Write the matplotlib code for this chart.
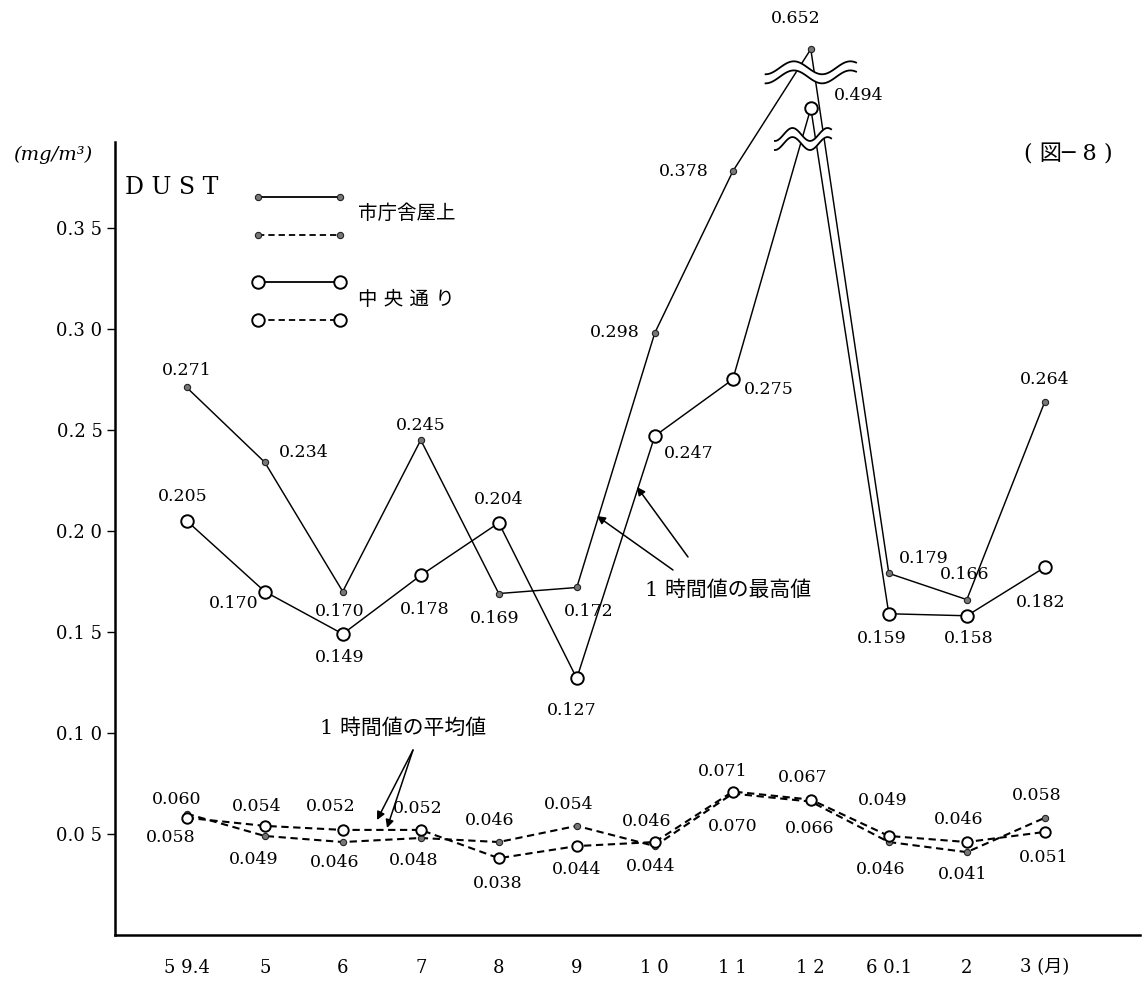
import numpy as np
import matplotlib.pyplot as plt

plt.rcParams['font.family'] = ['DejaVu Serif', 'Noto Sans CJK JP']

months = ['5 9.4', '5', '6', '7', '8', '9', '1 0', '1 1', '1 2', '6 0.1', '2', '3 (月)']

# 1時間値の最高値
shichosha_max = [0.271, 0.234, 0.170, 0.245, 0.169, 0.172, 0.298, 0.378, 0.652, 0.179, 0.166, 0.264]
chuo_max = [0.205, 0.170, 0.149, 0.178, 0.204, 0.127, 0.247, 0.275, 0.494, 0.159, 0.158, 0.182]

# 1時間値の平均値
shichosha_mean = [0.060, 0.049, 0.046, 0.048, 0.046, 0.054, 0.044, 0.070, 0.066, 0.046, 0.041, 0.058]
chuo_mean = [0.058, 0.054, 0.052, 0.052, 0.038, 0.044, 0.046, 0.071, 0.067, 0.049, 0.046, 0.051]

yticks = [0.05, 0.10, 0.15, 0.20, 0.25, 0.30, 0.35]
ytick_labels = ['0.0 5', '0.1 0', '0.1 5', '0.2 0', '0.2 5', '0.3 0', '0.3 5']

# values above the break are squeezed (axis is broken at the top)
BREAK_AT = 0.39
SQUEEZE = 0.185


def squeeze(v):
    v = np.asarray(v, dtype=float)
    return np.where(v > BREAK_AT, BREAK_AT + (v - BREAK_AT) * SQUEEZE, v)


W, H = 1144, 985


def fpx(xp, yp):
    # figure fraction from pixel position measured from top-left
    return xp / W, 1 - yp / H


fig = plt.figure(figsize=(W / 100, H / 100), dpi=100)
ax = fig.add_axes([0.1005, 0.0508, 0.896, 0.805])
x = np.arange(len(months))

dot_style = dict(marker='o', ms=4.5, mfc='#777777', mec='#222222', mew=0.8)
ring_style = dict(marker='o', ms=9, mfc='white', mec='black', mew=1.4)
ring_small = dict(marker='o', ms=7.5, mfc='white', mec='black', mew=1.4)
dash = (0, (3.5, 2.2))

ax.plot(x, squeeze(shichosha_max), '-', color='black', lw=1.05, clip_on=False, zorder=3, **dot_style)
ax.plot(x, squeeze(chuo_max), '-', color='black', lw=1.05, clip_on=False, zorder=3, **ring_style)
ax.plot(x, shichosha_mean, color='black', lw=1.5, ls=dash, zorder=3, **dot_style)
ax.plot(x, chuo_mean, color='black', lw=1.5, ls=dash, zorder=3, **ring_small)

# data labels (offsets in pixels)
A_off = [(0, 17), (39, 10), (-3, -20), (0, 15), (-4, -25), (12, -24),
         (-40, 0), (-49, 0), (-15, 31), (35, 15), (-2, 25), (0, 22)]
B_off = [(-4, 24), (-31, -12), (-3, -24), (4, -34), (0, 23), (-5, -32),
         (34, -18), (36, -10), (48, 13), (-7, -25), (2, -23), (-4, -35)]
C_off = [(-10, 14), (-11, -24), (-8, -20), (-7, -23), (-9, 22), (-8, 21),
         (-4, -20), (0, -33), (-1, -27), (-8, -27), (-4, -22), (-8, 22)]
D_off = [(-16, -20), (-8, 19), (-12, 23), (-3, 21), (-1, -25), (0, -23),
         (-8, 21), (-10, 20), (-8, 22), (-6, 35), (-8, 23), (-1, -26)]

for vals, offs in [(shichosha_max, A_off), (chuo_max, B_off),
                   (shichosha_mean, C_off), (chuo_mean, D_off)]:
    ys = squeeze(vals)
    for i, v in enumerate(vals):
        ax.annotate('{:.3f}'.format(v), (x[i], ys[i]), xytext=offs[i],
                    textcoords='offset pixels', ha='center', va='center',
                    fontsize=12.5, annotation_clip=False, zorder=6)


# break marks (double wavy line)
def wave_break(xc, yc, half_w, gap=0.0045, amp=0.0032):
    xs = np.linspace(xc - half_w, xc + half_w, 120)
    t = (xs - xs[0]) / (xs[-1] - xs[0])
    base = yc - amp * np.cos(3.2 * np.pi * t)
    ax.fill_between(xs, base - gap / 2, base + gap / 2, color='white',
                    zorder=4, clip_on=False, lw=0)
    ax.plot(xs, base + gap / 2, color='black', lw=1.3, zorder=5, clip_on=False)
    ax.plot(xs, base - gap / 2, color='black', lw=1.3, zorder=5, clip_on=False)


wave_break(8.0, 0.427, 0.58)
wave_break(7.9, 0.394, 0.36)

ax.set_xlim(-0.92, 12.22)
ax.set_ylim(0, 0.3925)
ax.set_yticks(yticks)
ax.set_yticklabels(ytick_labels, fontsize=13)
ax.set_xticks(x)
ax.set_xticklabels(months, fontsize=13)
ax.tick_params(axis='y', direction='out', length=6, width=1, pad=3)
ax.tick_params(axis='x', length=0, pad=17)
for side in ['top', 'right']:
    ax.spines[side].set_visible(False)
for side in ['left', 'bottom']:
    ax.spines[side].set_linewidth(1.8)

# legend drawn by hand
for yp, ls, style in [(197, '-', dot_style), (235, dash, dot_style),
                      (282, '-', ring_style), (320, dash, ring_style)]:
    x0, y0 = fpx(258, yp)
    x1, y1 = fpx(340, yp)
    fig.add_artist(plt.Line2D([x0, x1], [y0, y1], color='black', lw=1.3,
                              ls=ls, transform=fig.transFigure, **style))
fig.text(*fpx(358, 214), '市庁舎屋上', fontsize=14, va='center', ha='left')
fig.text(*fpx(358, 300), '中 央 通 り', fontsize=14, va='center', ha='left')

fig.text(*fpx(125, 187), 'D U S T', fontsize=17, va='center', ha='left')
fig.text(*fpx(53, 155), '(mg/m³)', fontsize=14, style='italic', va='center', ha='center')
fig.text(*fpx(1068, 155), '( 図─ 8 )', fontsize=16, va='center', ha='center')

# annotation arrows
fig.text(*fpx(645, 590), '1 時間値の最高値', fontsize=15, va='center', ha='left')
for tail, head in [((673, 570), (597, 516)), ((688, 557), (637, 487))]:
    ax.annotate('', xy=(head[0], H - head[1]), xycoords='figure pixels',
                xytext=(tail[0], H - tail[1]), textcoords='figure pixels',
                arrowprops=dict(arrowstyle='-|>', color='black', lw=1.1,
                                mutation_scale=12, shrinkA=0, shrinkB=0))

fig.text(*fpx(320, 728), '1 時間値の平均値', fontsize=15, va='center', ha='left')
for head in [(377, 820), (387, 828)]:
    ax.annotate('', xy=(head[0], H - head[1]), xycoords='figure pixels',
                xytext=(413, H - 750), textcoords='figure pixels',
                arrowprops=dict(arrowstyle='-|>', color='black', lw=1.1,
                                mutation_scale=12, shrinkA=0, shrinkB=0))

fig.savefig('out.png', dpi=100)
